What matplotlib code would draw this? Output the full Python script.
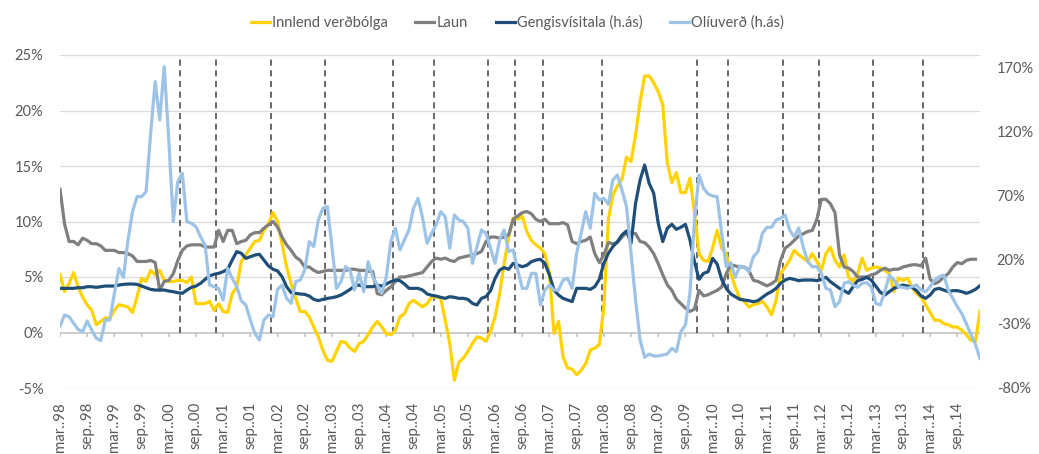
import numpy as np
import matplotlib
matplotlib.use("Agg")
import matplotlib.pyplot as plt

plt.rcParams['font.family'] = ['Lato', 'DejaVu Sans']

# Mánaðarleg gögn, mars 1998 - feb 2015
start_year = 1998
n_months = 204

# Innlend verðbólga (vinstri ás, %)
innlend = [
    5.2, 3.7, 4.4, 5.4, 4.1, 3.2, 2.5, 2.0, 0.7, 1.0, 1.3, 1.3,
    2.0, 2.5, 2.4, 2.3, 1.8, 3.2, 4.9, 4.6, 5.6, 5.2, 5.6, 4.7,
    4.6, 4.6, 4.7, 4.7, 4.5, 5.0, 2.6, 2.6, 2.6, 2.8, 2.0, 2.6,
    1.9, 1.8, 3.5, 4.1, 6.4, 7.0, 7.6, 8.2, 8.3, 9.2, 9.8, 10.8,
    10.0, 8.0, 5.9, 4.4, 3.1, 1.9, 1.9, 1.4, 0.5, -0.4, -1.6, -2.5,
    -2.6, -1.7, -0.8, -0.9, -1.4, -1.7, -1.0, -0.8, -0.2, 0.5, 1.0, 0.5,
    -0.1, -0.2, 0.2, 1.4, 1.7, 2.6, 2.9, 2.6, 2.3, 2.6, 3.2, 3.2,
    3.1, 1.1, -1.0, -4.3, -2.7, -2.3, -1.7, -1.0, -0.4, -0.5, -0.8, 0.1,
    1.4, 3.5, 6.2, 8.6, 10.3, 10.2, 10.5, 9.1, 8.3, 7.9, 7.6, 7.1,
    5.3, -0.1, 1.0, -2.2, -3.2, -3.3, -3.8, -3.4, -2.8, -1.6, -1.4, -1.1,
    2.3, 10.2, 12.4, 13.2, 13.8, 15.8, 15.4, 17.8, 20.8, 23.1, 23.1, 22.5,
    21.7, 20.5, 15.3, 13.5, 14.4, 12.6, 12.6, 13.9, 10.8, 7.1, 6.5, 6.4,
    7.6, 9.2, 7.6, 7.1, 5.3, 4.1, 3.1, 2.8, 2.3, 2.5, 2.6, 2.8,
    2.3, 1.6, 2.9, 5.3, 5.9, 6.5, 7.4, 7.0, 6.7, 6.4, 7.1, 6.4,
    5.6, 7.1, 7.7, 6.5, 5.9, 7.0, 5.0, 4.6, 5.3, 6.7, 5.6, 5.8,
    5.9, 5.8, 5.6, 5.3, 3.7, 4.9, 4.7, 4.9, 4.1, 3.5, 3.2, 2.5,
    1.8, 1.1, 1.1, 0.8, 0.7, 0.5, 0.5, 0.2, -0.2, -0.7, -0.8, 1.9,
]

# Laun (vinstri ás, %)
laun = [
    12.9, 9.8, 8.2, 8.2, 7.9, 8.5, 8.3, 8.0, 8.0, 7.8, 7.4, 7.4,
    7.4, 7.2, 7.2, 7.1, 6.9, 6.4, 6.4, 6.4, 6.5, 6.3, 3.8, 4.6,
    4.7, 5.3, 6.5, 7.4, 7.8, 7.9, 7.9, 7.9, 7.7, 7.7, 7.7, 9.2,
    8.2, 9.2, 9.2, 8.0, 8.2, 8.3, 8.8, 9.0, 9.0, 9.4, 9.7, 10.0,
    9.5, 8.6, 7.9, 7.4, 6.8, 6.5, 5.9, 5.9, 5.6, 5.4, 5.5, 5.6,
    5.6, 5.6, 5.6, 5.6, 5.7, 5.7, 5.6, 5.6, 5.5, 5.5, 3.5, 3.4,
    3.8, 4.1, 4.6, 5.0, 5.0, 5.1, 5.2, 5.3, 5.4, 5.9, 6.4, 6.7,
    6.6, 6.7, 6.5, 6.4, 6.7, 6.8, 6.9, 7.0, 7.1, 7.3, 8.2, 8.6,
    8.6, 8.5, 8.6, 8.8, 10.2, 10.5, 10.8, 10.9, 10.7, 10.2, 10.0, 10.2,
    9.8, 9.8, 9.8, 9.9, 9.7, 8.2, 8.0, 8.2, 8.3, 8.6, 7.1, 6.3,
    7.0, 8.1, 8.0, 8.1, 8.6, 9.0, 9.0, 8.9, 8.2, 8.1, 7.7, 7.1,
    6.2, 5.2, 4.3, 3.8, 3.0, 2.6, 2.2, 1.9, 2.1, 3.8, 3.3, 3.4,
    3.6, 3.8, 4.1, 5.3, 6.1, 6.0, 5.9, 5.9, 5.6, 4.7, 4.6, 4.4,
    4.2, 4.4, 4.7, 6.5, 7.6, 7.9, 8.3, 8.7, 8.9, 9.1, 9.2, 10.2,
    12.0, 12.0, 11.6, 10.8, 7.0, 5.9, 5.8, 5.5, 5.0, 5.0, 5.0, 5.2,
    5.3, 5.6, 5.8, 5.6, 5.7, 5.7, 5.9, 6.0, 6.1, 6.1, 6.0, 6.7,
    4.8, 4.4, 4.6, 5.0, 5.3, 5.9, 6.3, 6.2, 6.5, 6.6, 6.6, np.nan,
]

# Gengisvísitala (hægri ás, %)
gengi = [
    -2.2, -2.2, -2.2, -2.2, -1.7, -1.7, -0.9, -0.9, -1.4, -0.9, -0.4, -0.4,
    -0.4, 0.4, 0.9, 1.2, 1.2, 0.9, -0.4, -1.7, -3.0, -3.5, -3.5, -3.5,
    -4.3, -4.8, -5.6, -6.1, -3.5, -1.4, -0.4, 1.7, 4.8, 7.5, 8.8, 9.5,
    10.8, 12.7, 19.9, 26.5, 25.2, 21.2, 22.5, 23.8, 24.4, 19.9, 15.3, 12.7,
    11.4, 6.9, -0.9, -5.6, -6.1, -6.6, -6.9, -8.2, -10.8, -11.8, -10.8, -10.0,
    -9.5, -8.7, -7.4, -5.3, -3.0, -0.4, 0.4, -0.9, -0.9, -0.9, 0.4, -0.4,
    1.2, 3.0, 4.3, 3.8, 1.2, -2.2, -2.2, -2.2, -3.5, -6.6, -7.6, -8.2,
    -9.2, -10.0, -8.7, -9.2, -10.0, -10.0, -10.8, -13.9, -15.2, -10.0, -8.7, -4.0,
    5.6, 12.1, 14.0, 12.7, 17.3, 16.0, 14.7, 15.8, 18.6, 19.9, 20.5, 17.3,
    8.2, -3.5, -7.4, -10.0, -11.3, -12.5, -2.2, -2.2, -2.2, -3.0, -0.9, 4.8,
    17.3, 25.2, 30.4, 34.3, 39.5, 42.6, 33.0, 64.2, 82.4, 94.1, 79.8, 72.0,
    48.6, 34.3, 44.7, 47.8, 43.9, 45.5, 47.8, 35.6, 18.6, 4.8, 9.5, 10.8,
    21.2, 16.8, 4.8, -2.2, -6.6, -8.7, -10.8, -11.3, -11.8, -12.6, -11.8, -9.2,
    -6.6, -4.8, -2.2, 1.7, 4.3, 5.6, 4.8, 3.8, 4.3, 4.3, 4.3, 3.8,
    4.8, 6.4, 3.0, 0.4, -2.2, -4.0, -6.1, -0.9, 3.8, 4.8, 6.4, 4.3,
    -0.4, -5.3, -7.4, -4.8, -2.2, -0.9, 0.4, -0.4, -1.4, -4.0, -8.2, -10.0,
    -7.4, -3.0, -2.2, -3.5, -4.8, -4.0, -4.0, -4.8, -6.1, -4.8, -3.0, -0.1,
]

# Olíuverð (hægri ás, %)
oliuverd = [
    -31.6, -23.0, -24.3, -29.5, -34.2, -36.0, -27.7, -34.7, -41.2, -43.0, -26.9, -26.9,
    -6.1, 13.4, 6.4, 35.6, 57.7, 69.4, 69.4, 73.3, 118.8, 159.2, 129.3, 170.9,
    113.6, 49.9, 81.1, 87.6, 49.9, 48.6, 46.0, 38.2, 31.7, 0.4, -0.9, -2.2,
    -11.3, 13.4, 5.6, -0.9, -12.0, -15.2, -26.9, -37.3, -42.5, -26.9, -23.0, -24.3,
    -3.0, 0.4, -10.0, -13.9, 3.0, 4.3, 12.1, 34.3, 30.4, 51.2, 60.3, 61.6,
    30.4, -2.2, 3.0, 14.7, 12.1, -3.5, 9.5, -4.8, 18.6, 6.9, 0.4, -6.1,
    6.9, 34.3, 44.7, 27.8, 35.6, 43.4, 60.3, 68.1, 53.0, 33.0, 40.8, 47.3,
    57.7, 53.8, 29.1, 55.1, 51.2, 49.9, 44.7, 17.3, 30.4, 43.4, 40.8, 29.1,
    17.3, 35.6, 43.4, 26.5, 27.8, 12.1, -2.2, -2.2, 9.5, 9.5, -15.2, -3.5,
    0.4, -3.5, -3.5, 4.3, 5.6, -2.2, 25.2, 40.8, 57.7, 44.7, 72.0, 66.8,
    68.1, 63.5, 82.4, 86.3, 74.6, 61.6, 25.2, -11.3, -42.5, -56.1, -53.5, -55.0,
    -55.0, -54.2, -53.5, -49.0, -51.6, -36.0, -30.8, -6.1, 51.2, 86.3, 75.9, 71.5,
    69.9, 69.4, 40.8, 14.7, 17.9, 6.4, 15.3, 14.2, 10.8, 22.5, 26.5, 40.8,
    45.5, 45.5, 51.2, 52.5, 55.1, 43.4, 38.0, 45.0, 30.0, 18.6, 14.7, 14.7,
    9.5, -2.2, -3.5, -16.5, -12.6, 1.7, 3.0, 0.4, -1.4, 1.7, 2.2, -0.9,
    -13.9, -15.2, -4.8, 8.2, 4.3, -0.9, -1.4, -2.2, -0.9, 0.4, -3.5, -4.8,
    -0.9, 4.3, 6.9, 8.2, -3.5, -10.0, -16.5, -22.0, -30.0, -38.0, -46.0, -57.0,
]

# Lóðréttar brotalínur (staðsetning í mánuðum frá mars 1998)
brot = [26.5, 34.5, 46.5, 58.5, 73.5, 82.5, 94.5, 100.5, 106.5, 119.5,
        140.5, 147.5, 159.5, 167.5, 179.5, 190.5]

x = np.arange(n_months)
tick_pos = np.arange(0, n_months - 5, 6)
tick_labels = []
for k, p in enumerate(tick_pos):
    yr = (start_year + (p + 2) // 12) % 100
    tick_labels.append(('mar' if k % 2 == 0 else 'sep') + '..%02d' % yr)

txt = '#595959'
fig = plt.figure(figsize=(10.39, 4.54), dpi=100)
ax = fig.add_axes([60 / 1039, 1 - 388 / 454, 920 / 1039, 333 / 454])
ax2 = ax.twinx()

# rúðunet og x-ás við 0
for v in range(-5, 26, 5):
    if v != 0:
        ax.axhline(v, color='#d9d9d9', lw=0.9, zorder=0)
ax.axhline(0, color='#bfbfbf', lw=1.1, zorder=1)
ax.vlines(tick_pos, -0.45, 0, color='#bfbfbf', lw=1.1, zorder=1)
ax.vlines(brot, 0, 25, colors='#404040', linestyles=(0, (4, 3)), lw=1.1, zorder=2)

l1, = ax.plot(x, innlend, color='#FFD200', lw=2.3, zorder=3, label='Innlend verðbólga')
l2, = ax.plot(x, laun, color='#7F7F7F', lw=2.3, zorder=3, label='Laun')
l3, = ax2.plot(x, gengi, color='#1F4E79', lw=2.3, label='Gengisvísitala (h.ás)')
l4, = ax2.plot(x, oliuverd, color='#9DC3E6', lw=2.3, label='Olíuverð (h.ás)')

ax.set_xlim(0, n_months - 1)
ax.set_ylim(-5, 25)
ax2.set_ylim(-80, 180)
ax.set_yticks(range(-5, 26, 5))
ax.set_yticklabels(['%d%%' % v for v in range(-5, 26, 5)])
ax2.set_yticks(range(-80, 171, 50))
ax2.set_yticklabels(['%d%%' % v for v in range(-80, 171, 50)])
ax.set_xticks(tick_pos)
ax.set_xticklabels(tick_labels, rotation=90)

for a in (ax, ax2):
    for s in a.spines.values():
        s.set_visible(False)
ax.tick_params(axis='y', length=0, pad=12, labelsize=10.5, labelcolor=txt)
ax2.tick_params(axis='y', length=0, pad=12, labelsize=10.5, labelcolor=txt)
ax.tick_params(axis='x', length=0, pad=10, labelsize=10.8, labelcolor=txt)

fig.legend(handles=[l1, l2, l3, l4], loc='center', bbox_to_anchor=(0.498, 0.951),
           ncol=4, frameon=False, fontsize=10.5, handlelength=1.3,
           handletextpad=0.15, columnspacing=1.9, labelcolor=txt)

fig.savefig('out.png', dpi=100)
